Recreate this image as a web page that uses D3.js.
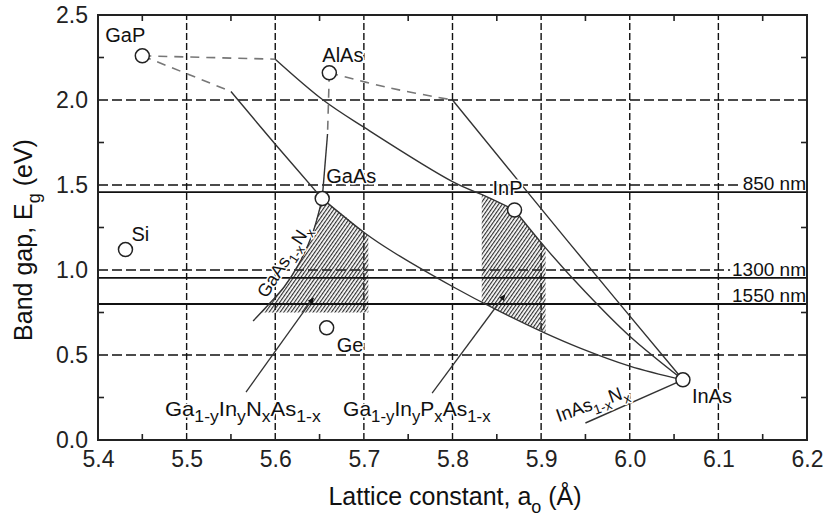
<!DOCTYPE html>
<html>
<head>
<meta charset="utf-8">
<script src="https://cdn.jsdelivr.net/npm/d3@7"></script>
<style>
  html, body { margin: 0; padding: 0; background: #fff; }
  svg { display: block; font-family: "Liberation Sans", Arial, Helvetica, sans-serif; }
</style>
</head>
<body>
<svg id="chart" width="828" height="519"></svg>
<script>
// ---- axis ticks ----
const xTickValues = [5.4, 5.5, 5.6, 5.7, 5.8, 5.9, 6.0, 6.1, 6.2];
const xMinorTicks = [5.45, 5.55, 5.65, 5.75, 5.85, 5.95, 6.05, 6.15];
const xGridValues = [5.5, 5.6, 5.7, 5.8, 5.9, 6.0, 6.1];
const yTickValues = [0.0, 0.5, 1.0, 1.5, 2.0, 2.5];
const yMinorTicks = [0.25, 0.75, 1.25, 1.75, 2.25];
const yGridValues = [0.5, 1.0, 1.5, 2.0];

// ---- binary semiconductors: lattice constant (Å) and band gap (eV) ----
const compoundNames = ["GaP", "AlAs", "GaAs", "InP", "InAs", "Si", "Ge"];
const compoundLattice = [5.450, 5.661, 5.653, 5.870, 6.060, 5.431, 5.658];
const compoundGap = [2.26, 2.16, 1.42, 1.353, 0.354, 1.12, 0.66];

// ---- telecom wavelengths (nm) ----
const wavelengths = [850, 1300, 1550];

// ---- ternary alloy curves [a, Eg] ----
const gapGaAsIndirect = [[5.450, 2.26], [5.550, 2.05]];
const gapGaAsDirect = [[5.550, 2.05], [5.600, 1.74], [5.653, 1.42]];
const gapInPIndirect = [[5.450, 2.26], [5.600, 2.24]];
const gapInPDirect = [[5.600, 2.24], [5.654, 2.00], [5.700, 1.84], [5.800, 1.52], [5.839, 1.43], [5.870, 1.353]];
const alasGaAsIndirect = [[5.661, 2.16], [5.659, 1.80]];
const alasGaAsDirect = [[5.659, 1.80], [5.653, 1.42]];
const alasInAsIndirect = [[5.661, 2.16], [5.730, 2.07], [5.800, 2.00]];
const alasInAsDirect = [[5.800, 2.00], [5.930, 1.17], [6.060, 0.354]];
const gaasInAs = [[5.653, 1.42], [5.701, 1.218], [5.733, 1.106], [5.801, 0.900], [5.850, 0.765], [5.902, 0.635], [5.944, 0.541], [6.000, 0.435], [6.060, 0.354]];
const inpInAs = [[5.870, 1.353], [5.905, 1.13], [5.950, 0.87], [6.000, 0.61], [6.060, 0.354]];
const gaasN = [[5.653, 1.42], [5.6415, 1.206], [5.626, 1.03], [5.610, 0.90], [5.594, 0.806], [5.575, 0.70]];
const inasN = [[6.060, 0.354], [5.950, 0.10]];

// ---- quaternary regions (hatched) ----
const gainnasRegion = [[5.653, 1.42], [5.680, 1.31], [5.705, 1.20], [5.705, 0.75], [5.584, 0.75], [5.594, 0.806], [5.610, 0.90], [5.626, 1.03], [5.6415, 1.206]];
const gainpasRegion = [[5.833, 1.445], [5.850, 1.405], [5.870, 1.353], [5.905, 1.13], [5.905, 0.628], [5.850, 0.765], [5.833, 0.812]];

// ---- pointer arrows [from, to] ----
const gainnasArrow = [[5.567, 0.282], [5.643, 0.835]];
const gainpasArrow = [[5.777, 0.276], [5.859, 0.853]];

// ---- layout ----
const svg = d3.select("#chart");
const x = d3.scaleLinear().domain([5.4, 6.2]).range([98, 807]);
const y = d3.scaleLinear().domain([0, 2.5]).range([440, 15]);
const FONT = '"Liberation Sans", Arial, Helvetica, sans-serif';

const defs = svg.append("defs");
const hatch = defs.append("pattern")
  .attr("id", "hatch").attr("patternUnits", "userSpaceOnUse")
  .attr("width", 3).attr("height", 3)
  .attr("patternTransform", "rotate(35)");
hatch.append("line").attr("x1", 0.6).attr("y1", 0).attr("x2", 0.6).attr("y2", 3)
  .attr("stroke", "#2a2a2a").attr("stroke-width", 1.15);
defs.append("marker")
  .attr("id", "arrowhead").attr("viewBox", "0 0 10 10")
  .attr("refX", 9).attr("refY", 5)
  .attr("markerWidth", 8).attr("markerHeight", 6)
  .attr("markerUnits", "userSpaceOnUse")
  .attr("orient", "auto")
  .append("path").attr("d", "M0,0 L10,5 L0,10 Z").attr("fill", "#111");

const gGrid = svg.append("g");
const gHatch = svg.append("g");
const gLabelBg = svg.append("g");
const gLines = svg.append("g");
const gCurves = svg.append("g");
const gMarks = svg.append("g");
const gText = svg.append("g");
const gAxes = svg.append("g");

// dashed grid
gGrid.selectAll("line.vx").data(xGridValues).join("line")
  .attr("x1", d => x(d)).attr("x2", d => x(d))
  .attr("y1", y(0)).attr("y2", y(2.5))
  .attr("stroke", "#111").attr("stroke-width", 1.4).attr("stroke-dasharray", "7,3");
gGrid.selectAll("line.hy").data(yGridValues).join("line")
  .attr("x1", x(5.4)).attr("x2", x(6.2))
  .attr("y1", d => y(d)).attr("y2", d => y(d))
  .attr("stroke", "#111").attr("stroke-width", 1.4).attr("stroke-dasharray", "10,4");

// hatched quaternary regions
const poly = d3.line().x(d => x(d[0])).y(d => y(d[1]));
[gainnasRegion, gainpasRegion].forEach(r => {
  gHatch.append("path").attr("d", poly(r) + "Z")
    .attr("fill", "url(#hatch)").attr("stroke", "none");
});

// photon energy of each wavelength
const photonEnergy = lam => 1239.84 / lam;
gLines.selectAll("line").data(wavelengths).join("line")
  .attr("x1", x(5.4)).attr("x2", x(6.2))
  .attr("y1", d => y(photonEnergy(d))).attr("y2", d => y(photonEnergy(d)))
  .attr("stroke", "#111").attr("stroke-width", 1.8);

// alloy curves
const curve = d3.line().x(d => x(d[0])).y(d => y(d[1])).curve(d3.curveCatmullRom.alpha(0.5));
[gapGaAsDirect, gapInPDirect, alasGaAsDirect, alasInAsDirect, gaasInAs, inpInAs, gaasN, inasN].forEach(c => {
  gCurves.append("path").attr("d", curve(c)).attr("fill", "none")
    .attr("stroke", "#333").attr("stroke-width", 1.4);
});
[gapGaAsIndirect, gapInPIndirect, alasGaAsIndirect, alasInAsIndirect].forEach(c => {
  gCurves.append("path").attr("d", curve(c)).attr("fill", "none")
    .attr("stroke", "#777").attr("stroke-width", 1.6).attr("stroke-dasharray", "9,7");
});

// arrows pointing into the hatched regions
[gainnasArrow, gainpasArrow].forEach(a => {
  gCurves.append("line")
    .attr("x1", x(a[0][0])).attr("y1", y(a[0][1]))
    .attr("x2", x(a[1][0])).attr("y2", y(a[1][1]))
    .attr("stroke", "#333").attr("stroke-width", 1.3)
    .attr("marker-end", "url(#arrowhead)");
});

// binary compound circles
const compounds = compoundNames.map((n, i) => ({ name: n, a: compoundLattice[i], eg: compoundGap[i] }));
gMarks.selectAll("circle").data(compounds).join("circle")
  .attr("cx", d => x(d.a)).attr("cy", d => y(d.eg)).attr("r", 7)
  .attr("fill", "#fff").attr("stroke", "#222").attr("stroke-width", 1.5);

// text with sub-scripted parts: plain strings or [subscript]
function richText(parent, parts, opt) {
  const size = opt.size;
  const sub = opt.subScale || 0.72;
  const shift = opt.subShift || size * 0.3;
  const g = parent.append("g").attr("transform",
    `translate(${opt.x},${opt.y}) rotate(${opt.rotate || 0}) scale(${opt.sx || 1},1)`);
  const t = g.append("text")
    .attr("font-size", size)
    .attr("font-family", FONT)
    .attr("fill", opt.fill || "#111")
    .attr("text-anchor", opt.anchor || "start");
  if (opt.halo) {
    t.attr("stroke", "#fff").attr("stroke-width", opt.halo)
      .attr("stroke-linejoin", "round").attr("paint-order", "stroke");
  }
  let down = false;
  parts.forEach(p => {
    const isSub = Array.isArray(p);
    const ts = t.append("tspan").text(isSub ? p[0] : p);
    if (isSub) {
      ts.attr("font-size", size * sub);
      if (!down) { ts.attr("dy", shift); down = true; }
    } else if (down) {
      ts.attr("dy", -shift); down = false;
    }
  });
  return t;
}

// compound labels, offset from their circles
const compoundLabelOffset = {
  GaP: [-37, -14], AlAs: [-7, -11], GaAs: [4, -16], InP: [-22, -15],
  InAs: [9, 23], Si: [6, -9], Ge: [10, 24]
};
compounds.forEach(d => {
  const o = compoundLabelOffset[d.name];
  richText(gText, [d.name], { x: x(d.a) + o[0], y: y(d.eg) + o[1], size: 20, halo: 3 });
});

// wavelength labels with white backing
wavelengths.forEach(lam => {
  const t = richText(gText, [lam + " nm"], {
    x: x(6.2) - 1, y: y(photonEnergy(lam)) - 2, size: 19, anchor: "end"
  });
  const bb = t.node().getBBox();
  const py = y(photonEnergy(lam)) - 2;
  gLabelBg.append("rect")
    .attr("x", x(6.2) + bb.x - 3).attr("y", py + bb.y)
    .attr("width", bb.width + 3).attr("height", -bb.y)
    .attr("fill", "#fff");
});

// alloy labels
richText(gText, ["GaAs", ["1-x"], "N", ["x"]], {
  x: x(5.590), y: y(0.83), rotate: -57, size: 18, halo: 3
});
richText(gText, ["InAs", ["1-x"], "N", ["x"]], {
  x: x(5.920), y: y(0.105), rotate: -20, size: 18.5, halo: 3
});
richText(gText, ["Ga", ["1-y"], "In", ["y"], "N", ["x"], "As", ["1-x"]], {
  x: x(5.4756), y: y(0.14), size: 20, subScale: 0.8, sx: 1.1, halo: 3
});
richText(gText, ["Ga", ["1-y"], "In", ["y"], "P", ["x"], "As", ["1-x"]], {
  x: x(5.6765), y: y(0.14), size: 20, subScale: 0.8, sx: 1.05, halo: 3
});

// frame
gAxes.append("rect")
  .attr("x", x(5.4)).attr("y", y(2.5))
  .attr("width", x(6.2) - x(5.4)).attr("height", y(0) - y(2.5))
  .attr("fill", "none").attr("stroke", "#222").attr("stroke-width", 2);

// minor inward ticks on all four sides
const tickLen = 6;
const minor = gAxes.append("g").attr("stroke", "#222").attr("stroke-width", 1.6);
xMinorTicks.forEach(v => {
  minor.append("line").attr("x1", x(v)).attr("x2", x(v)).attr("y1", y(0)).attr("y2", y(0) - tickLen);
  minor.append("line").attr("x1", x(v)).attr("x2", x(v)).attr("y1", y(2.5)).attr("y2", y(2.5) + tickLen);
});
yMinorTicks.forEach(v => {
  minor.append("line").attr("y1", y(v)).attr("y2", y(v)).attr("x1", x(5.4)).attr("x2", x(5.4) + tickLen);
  minor.append("line").attr("y1", y(v)).attr("y2", y(v)).attr("x1", x(6.2)).attr("x2", x(6.2) - tickLen);
});

// tick labels
const fmt = d3.format(".1f");
const xAxis = gAxes.append("g").attr("transform", `translate(0,${y(0)})`)
  .call(d3.axisBottom(x).tickValues(xTickValues).tickFormat(fmt).tickSize(0).tickPadding(11));
const yAxis = gAxes.append("g").attr("transform", `translate(${x(5.4)},0)`)
  .call(d3.axisLeft(y).tickValues(yTickValues).tickFormat(fmt).tickSize(0).tickPadding(10));
[xAxis, yAxis].forEach(a => {
  a.select(".domain").remove();
  a.attr("font-family", FONT).attr("font-size", 23);
  a.selectAll("text").attr("fill", "#222");
});

// axis titles
richText(gText, ["Lattice constant, a", ["o"], " (Å)"], {
  x: 455, y: 505, size: 25, anchor: "middle", subShift: 8
});
richText(gText, ["Band gap, E", ["g"], " (eV)"], {
  x: 32, y: 240, rotate: -90, size: 25, anchor: "middle", subShift: 8
});
</script>
</body>
</html>
